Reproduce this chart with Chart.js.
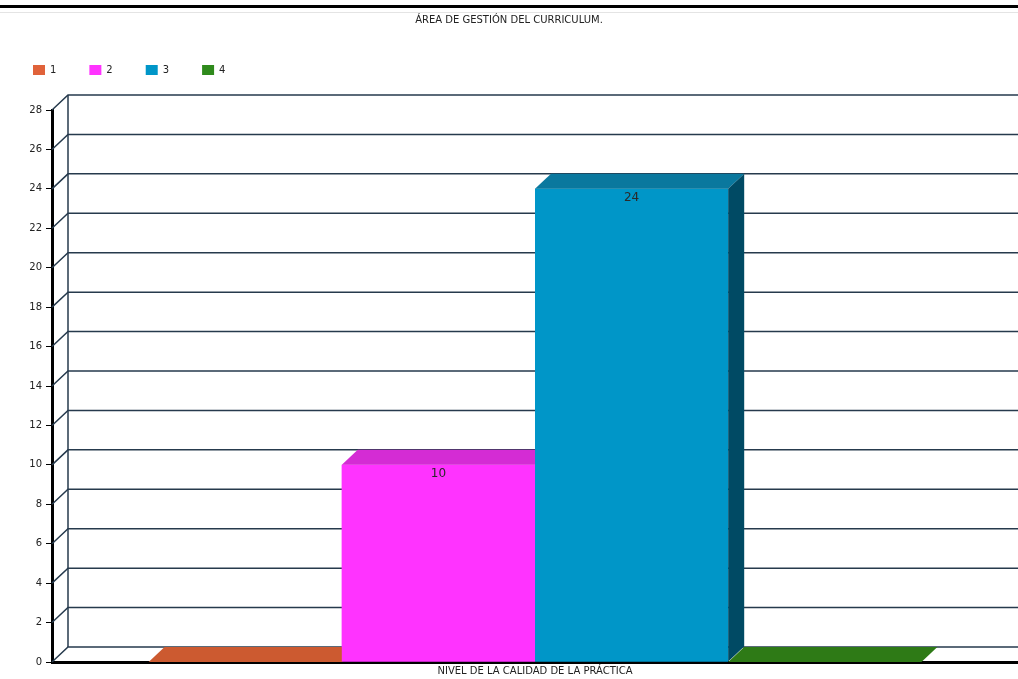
<!DOCTYPE html>
<html>
<head>
<meta charset="utf-8">
<script src="https://cdn.jsdelivr.net/npm/chart.js@4.4.0/dist/chart.umd.min.js"></script>
<style>
  body { margin: 0; background: #fff; }
  #wrap { width: 1018px; height: 679px; }
</style>
</head>
<body>
<div id="wrap"><canvas id="chart"></canvas></div>
<script>
// data
const categories = ['']
const seriesNames = ['1', '2', '3', '4']
const seriesValues = [[0], [10], [24], [0]]
const yMax = 28
const yStep = 2
const chartTitle = 'ÁREA DE GESTIÓN DEL CURRICULUM.'
const xTitle = 'NIVEL DE LA CALIDAD DE LA PRÁCTICA'

// colours for the front, top and side faces of each series
const frontColors = ['#e0623a', '#ff33ff', '#0096c8', '#2f8a1c']
const topColors = ['#cc5a30', '#d42cd4', '#0a789e', '#2e7a16']
const sideColors = ['#8a3a1c', '#9a1f9a', '#004a64', '#1c4f0c']

const DX = 16
const DY = 15
const font = 'DejaVu Sans'

const fake3d = {
  id: 'fake3d',
  afterInit(chart) {
    // leave some room between the legend and the plot
    const legend = chart.legend
    const fit = legend.fit
    legend.fit = function () {
      fit.call(this)
      this.height += 25
    }
  },
  beforeDraw(chart) {
    const ctx = chart.ctx
    ctx.save()
    ctx.fillStyle = '#000'
    ctx.fillRect(0, 5, chart.width, 3)
    ctx.fillStyle = '#e4e4e4'
    ctx.fillRect(0, 12, chart.width, 1)
    ctx.restore()
  },
  beforeDatasetsDraw(chart) {
    const { ctx, chartArea, scales: { y } } = chart
    ctx.save()
    ctx.strokeStyle = '#263a4d'
    ctx.lineWidth = 1.5
    y.ticks.forEach(t => {
      const py = y.getPixelForValue(t.value)
      ctx.beginPath()
      ctx.moveTo(chartArea.left, py)
      ctx.lineTo(chartArea.left + DX, py - DY)
      ctx.lineTo(chartArea.right, py - DY)
      ctx.stroke()
    })
    ctx.beginPath()
    ctx.moveTo(chartArea.left + DX, y.getPixelForValue(y.max) - DY)
    ctx.lineTo(chartArea.left + DX, y.getPixelForValue(y.min) - DY)
    ctx.stroke()
    ctx.restore()
  },
  afterDatasetsDraw(chart) {
    const ctx = chart.ctx
    // redraw each series in order so later bars cover earlier side faces
    seriesNames.forEach((name, i) => {
      chart.getDatasetMeta(i).data.forEach((bar, j) => {
        const { x, y, base, width } = bar.getProps(['x', 'y', 'base', 'width'], true)
        const l = x - width / 2
        const r = x + width / 2
        bar.draw(ctx)
        ctx.save()
        ctx.fillStyle = topColors[i]
        ctx.beginPath()
        ctx.moveTo(l, y)
        ctx.lineTo(r, y)
        ctx.lineTo(r + DX, y - DY)
        ctx.lineTo(l + DX, y - DY)
        ctx.closePath()
        ctx.fill()
        if (base - y > 0) {
          ctx.fillStyle = sideColors[i]
          ctx.beginPath()
          ctx.moveTo(r, y)
          ctx.lineTo(r + DX, y - DY)
          ctx.lineTo(r + DX, base - DY)
          ctx.lineTo(r, base)
          ctx.closePath()
          ctx.fill()
        }
        const v = seriesValues[i][j]
        if (v > 0) {
          ctx.fillStyle = '#2a2a2a'
          ctx.font = '12px "' + font + '"'
          ctx.textAlign = 'center'
          ctx.textBaseline = 'middle'
          ctx.fillText(String(v), x, y + 9)
        }
        ctx.restore()
      })
    })
  }
}

new Chart(document.getElementById('chart'), {
  type: 'bar',
  data: {
    labels: categories,
    datasets: seriesNames.map((name, i) => ({
      label: name,
      data: seriesValues[i],
      backgroundColor: frontColors[i],
      borderWidth: 0,
      barPercentage: 1,
      categoryPercentage: 0.8
    }))
  },
  options: {
    responsive: true,
    maintainAspectRatio: false,
    animation: false,
    layout: { padding: { left: 0, right: 0, top: 0, bottom: 0 } },
    plugins: {
      title: {
        display: true,
        text: chartTitle,
        color: '#222',
        font: { family: font, size: 10, weight: 'normal' },
        padding: { top: 14, bottom: 6 }
      },
      legend: {
        position: 'top',
        align: 'start',
        labels: {
          boxWidth: 12,
          boxHeight: 10,
          padding: 33,
          color: '#222',
          font: { family: font, size: 10 }
        }
      },
      tooltip: { enabled: false }
    },
    scales: {
      x: {
        z: 1,
        grid: { display: false, drawTicks: false },
        ticks: { display: false },
        border: { display: true, color: '#000', width: 3 },
        title: {
          display: true,
          text: xTitle,
          color: '#222',
          font: { family: font, size: 10 },
          padding: { top: 3, bottom: 2 }
        }
      },
      y: {
        min: 0,
        max: yMax,
        afterFit: scale => { scale.width = 52 },
        ticks: {
          stepSize: yStep,
          color: '#222',
          padding: 4,
          font: { family: font, size: 10 }
        },
        grid: { drawOnChartArea: false, tickLength: 6, color: '#000', lineWidth: 1 },
        border: { display: true, color: '#000', width: 3 }
      }
    }
  },
  plugins: [fake3d]
})
</script>
</body>
</html>
